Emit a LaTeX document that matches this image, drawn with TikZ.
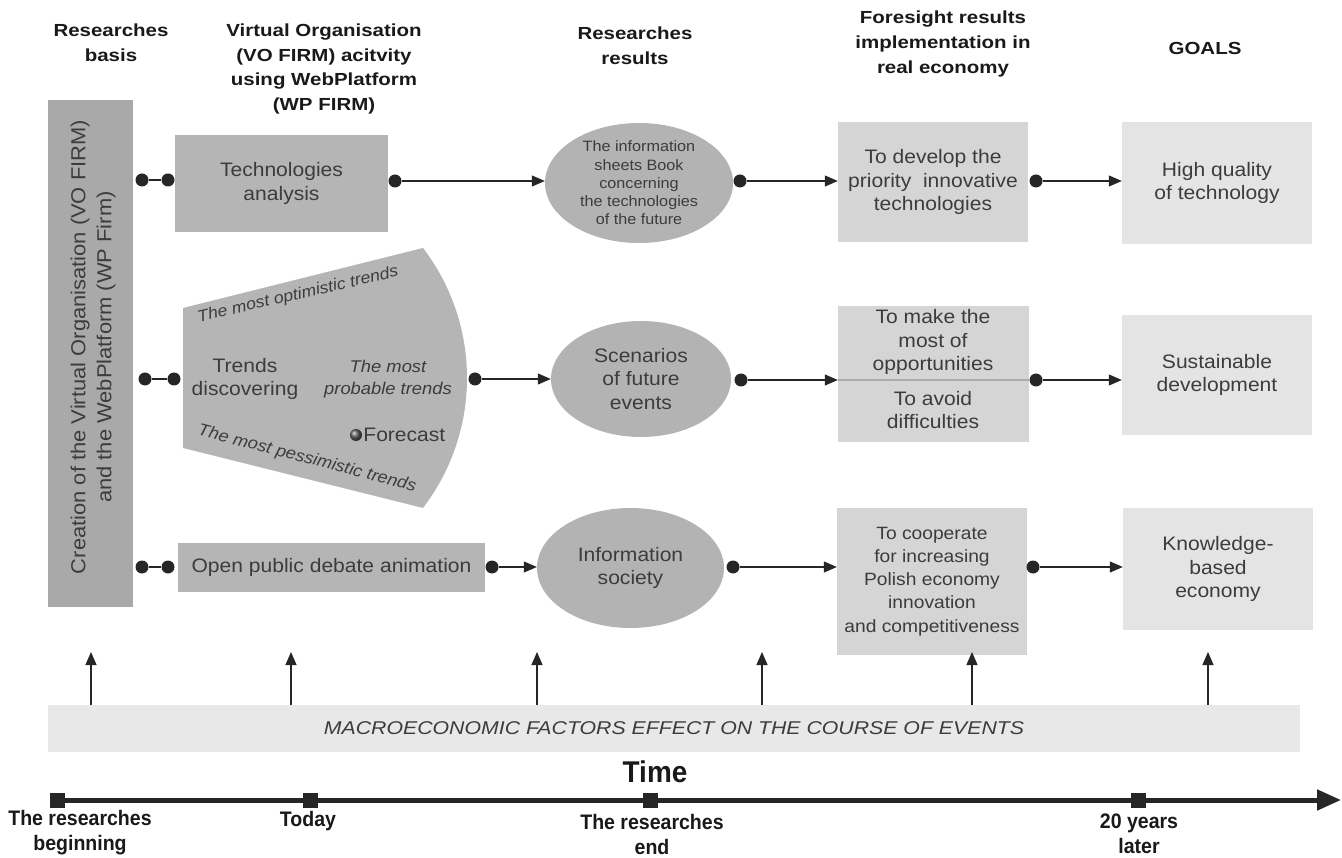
\documentclass[tikz,border=0pt]{standalone}
\usepackage{fontspec}
\setmainfont{Liberation Sans}
\newfontfamily\bodyf[FakeStretch=1.08]{Liberation Sans}
\newfontfamily\hdrf[FakeStretch=1.17]{Liberation Sans}
\newfontfamily\macrof[FakeStretch=1.15]{Liberation Sans}
\newfontfamily\narrowf[FakeStretch=0.93]{Liberation Sans}
\usetikzlibrary{arrows.meta,shapes.geometric,calc}
\definecolor{cdark}{HTML}{A9A9A9}
\definecolor{cmid}{HTML}{B5B5B5}
\definecolor{cell}{HTML}{B3B3B3}
\definecolor{cfore}{HTML}{D5D5D5}
\definecolor{cgoal}{HTML}{E4E4E4}
\definecolor{cband}{HTML}{E8E8E8}
\definecolor{txt}{HTML}{3C3C3C}
\definecolor{cline}{HTML}{262626}
\tikzset{
  body/.style={font=\bodyf\fontsize{19.5}{23.5}\selectfont, text=txt, align=center},
  small/.style={font=\bodyf\fontsize{15}{18.3}\selectfont, text=txt, align=center},
  itl/.style={font=\bodyf\itshape\fontsize{#1}{22}\selectfont, text=txt, align=center},
  itl/.default=16.5,
  hdr/.style={font=\hdrf\bfseries\fontsize{17.5}{24.8}\selectfont, align=center, text=black!90},
  tlab/.style={font=\narrowf\bfseries\fontsize{21}{25}\selectfont, align=center, text=black!90},
  boxB/.style={fill=cmid, inner sep=0, body},
  boxC/.style={fill=cfore, inner sep=0, body},
  boxD/.style={fill=cgoal, inner sep=0, body},
  ell/.style={ellipse, fill=cell, inner sep=0},
  dot/.style={circle, fill=cline, inner sep=0, minimum size=13pt},
  sq/.style={rectangle, fill=cline, inner sep=0, minimum size=15pt},
  ln/.style={line width=1.1pt, draw=cline},
  arr/.style={ln, -{Triangle[length=13pt,width=11pt]}},
}
\begin{document}
\begin{tikzpicture}[x=1pt,y=-1pt]
\useasboundingbox[fill=white] (0,0) rectangle (1342,858);

% headers
\node[hdr] (h1) at (111,43) {Researches\\basis};
\node[hdr] (h2) at (324,69) {Virtual Organisation\\(VO FIRM) acitvity\\using WebPlatform\\(WP FIRM)};
\node[hdr] (h3) at (635,46) {Researches\\results};
\node[hdr] (h4) at (943,44) {Foresight results\\implementation in\\real economy};
\node[hdr] (h5) at (1205,48) {GOALS};

% left vertical box
\node[fill=cdark, minimum width=85pt, minimum height=507pt, inner sep=0] (vbox) at (90.5,353.5) {};
\node[rotate=90, font=\bodyf\fontsize{20.3}{26}\selectfont, text=txt, align=center] (vtext) at (93,347)
  {Creation of the Virtual Organisation (VO FIRM)\\and the WebPlatform (WP Firm)};

% row 1
\node[boxB, minimum width=213pt, minimum height=97pt] (tech) at (281.5,183.5) {Technologies\\analysis};
\node[ell, minimum width=188pt, minimum height=120pt, small] (e1) at (639,183)
  {The information\\sheets Book\\concerning\\the technologies\\of the future};
\node[boxC, minimum width=190pt, minimum height=120pt] (f1) at (933,182) {To develop the\\priority\ \ innovative\\technologies};
\node[boxD, minimum width=190pt, minimum height=122pt] (g1) at (1217,183) {High quality\\of technology};

\node[dot] (d1a) at (142,180) {};
\node[dot] (d1b) at (168,180) {};
\node[dot] (d1c) at (395,181) {};
\node[dot] (d1d) at (740,181) {};
\node[dot] (d1e) at (1036,181) {};
\draw[ln] (d1a) -- (d1b);
\draw[arr] (d1c) -- (d1c -| e1.west);
\draw[arr] (d1d) -- (d1d -| f1.west);
\draw[arr] (d1e) -- (d1e -| g1.west);

% row 2 : fan
\fill[cmid] (183,308) -- (423,248) arc[start angle=37.4, end angle=-37.4, radius=214pt] -- (183,448) -- cycle;
\node[itl=16.3, rotate=13] (opt) at (298,295) {The most optimistic trends};
\node[itl=16.8, rotate=-14.6] (pes) at (307,459) {The most pessimistic trends};
\node[body] (trd) at (245,379) {Trends\\discovering};
\node[itl=17] (prob) at (388,379) {The most\\probable trends};
\node[circle, shade, ball color=gray!75!black, inner sep=0, minimum size=12pt] (ball) at (356,435) {};
\node[body, anchor=west, inner sep=0] (fc) at ([xshift=1pt]ball.east) {Forecast};

\node[ell, minimum width=180pt, minimum height=116pt, body] (e2) at (641,379) {Scenarios\\of future\\events};
\node[boxC, minimum width=191pt, minimum height=136pt] (f2) at (933.5,374) {};
\draw[draw=black!33, line width=2pt] (f2.west |- 0,380) -- (f2.east |- 0,380);
\node[body] (f2t) at (933,342) {To make the\\most of\\opportunities};
\node[body] (f2b) at (933,410) {To avoid\\difficulties};
\node[boxD, minimum width=190pt, minimum height=120pt] (g2) at (1217,375) {Sustainable\\development};

\node[dot] (d2a) at (145,379) {};
\node[dot] (d2b) at (174,379) {};
\node[dot] (d2c) at (475,379) {};
\node[dot] (d2d) at (741,380) {};
\node[dot] (d2e) at (1036,380) {};
\draw[ln] (d2a) -- (d2b);
\draw[arr] (d2c) -- (d2c -| e2.west);
\draw[arr] (d2d) -- (d2d -| f2.west);
\draw[arr] (d2e) -- (d2e -| g2.west);

% row 3
\node[boxB, minimum width=307pt, minimum height=49pt] (deb) at (331.5,567.5) {Open public debate animation};
\node[ell, minimum width=187pt, minimum height=120pt, body] (e3) at (630.5,568) {Information\\society};
\node[boxC, minimum width=190pt, minimum height=147pt, font=\bodyf\fontsize{17.8}{23.2}\selectfont] (f3) at (932,581.5)
  {To cooperate\\for increasing\\Polish economy\\innovation\\and competitiveness};
\node[boxD, minimum width=190pt, minimum height=122pt] (g3) at (1218,569) {Knowledge-\\based\\economy};

\node[dot] (d3a) at (142,567) {};
\node[dot] (d3b) at (168,567) {};
\node[dot] (d3c) at (492,567) {};
\node[dot] (d3d) at (733,567) {};
\node[dot] (d3e) at (1033,567) {};
\draw[ln] (d3a) -- (d3b);
\draw[arr] (d3c) -- (d3c -| e3.west);
\draw[arr] (d3d) -- (d3d -| f3.west);
\draw[arr] (d3e) -- (d3e -| g3.west);

% macro band
\node[fill=cband, minimum width=1252pt, minimum height=47pt, inner sep=0,
      font=\macrof\itshape\fontsize{18.5}{20}\selectfont, text=txt] (band) at (674,728.5)
  {MACROECONOMIC FACTORS EFFECT ON THE COURSE OF EVENTS};
\foreach \x [count=\i] in {91,291,537,762,972,1208}{
  \coordinate (up\i) at (\x,652);
  \draw[arr] (band.north -| up\i) -- (up\i);
}

% time axis
\node[font=\narrowf\bfseries\fontsize{30}{32}\selectfont, text=black!90] (time) at (655,772) {Time};
\node[sq] (t0) at (57,800) {};
\node[sq] (t1) at (310,800) {};
\node[sq] (t2) at (650,800) {};
\node[sq] (t3) at (1138,800) {};
\coordinate (tend) at (1341,800);
\draw[draw=cline, line width=5pt, -{Triangle[length=24pt,width=20pt]}] (t0) -- (tend);
\node[tlab] (l0) at (80,833) {The researches\\beginning};
\node[tlab] (l1) at (308,821) {Today};
\node[tlab] (l2) at (652,834) {The researches\\end};
\node[tlab] (l3) at (1139,834) {20 years\\later};
\end{tikzpicture}
\end{document}
